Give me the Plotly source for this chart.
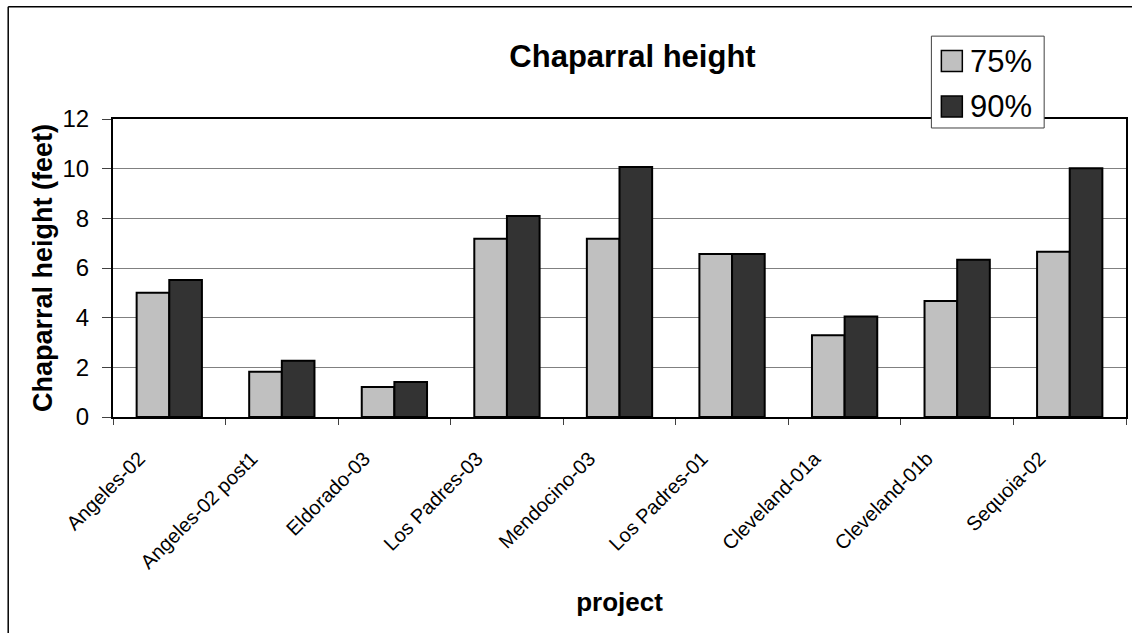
import plotly.graph_objects as go

categories = ["Angeles-02", "Angeles-02 post1", "Eldorado-03", "Los Padres-03",
              "Mendocino-03", "Los Padres-01", "Cleveland-01a", "Cleveland-01b", "Sequoia-02"]
p75 = [5.0, 1.82, 1.21, 7.18, 7.18, 6.56, 3.29, 4.67, 6.65]
p90 = [5.52, 2.27, 1.41, 8.09, 10.07, 6.56, 4.05, 6.33, 10.02]
series_names = ["75%", "90%"]
series_colors = ["#C0C0C0", "#333333"]
y_ticks = [0, 2, 4, 6, 8, 10, 12]

W, H = 1132, 633
L, R, T, B = 113, 1128, 119, 417.5

def px_x(x):
    return (x - L) / (R - L)

def px_y(y):
    return (B - y) / (B - T)

FONT = "Arial, Liberation Sans, sans-serif"

fig = go.Figure()
for name, vals, col in zip(series_names, [p75, p90], series_colors):
    fig.add_trace(go.Bar(x=categories, y=vals, name=name, marker=dict(color=col, line=dict(color="black", width=2)),
                         showlegend=False))

shapes = [
    # outer chart border (left and top edges visible in frame)
    dict(type="line", xref="paper", yref="paper", x0=px_x(8), y0=px_y(650), x1=px_x(8), y1=px_y(6.5),
         line=dict(color="black", width=1.5), layer="below"),
    dict(type="line", xref="paper", yref="paper", x0=px_x(8), y0=px_y(6.5), x1=px_x(1140), y1=px_y(6.5),
         line=dict(color="black", width=1.5), layer="below"),
    # legend box
    dict(type="rect", xref="paper", yref="paper", x0=px_x(933), y0=px_y(128), x1=px_x(1046), y1=px_y(36),
         line=dict(color="#404040", width=1), fillcolor="white", layer="above"),
]
annotations = []
legend_rows = [61, 106.5]
for name, col, cy in zip(series_names, series_colors, legend_rows):
    shapes.append(dict(type="rect", xref="paper", yref="paper", x0=px_x(943), y0=px_y(cy + 10.5),
                       x1=px_x(964), y1=px_y(cy - 10.5), line=dict(color="black", width=1.5),
                       fillcolor=col, layer="above"))
    annotations.append(dict(xref="paper", yref="paper", x=px_x(970), y=px_y(cy), text=name, showarrow=False,
                            xanchor="left", yanchor="middle", font=dict(size=31, color="black", family=FONT)))

fig.update_layout(
    width=W, height=H,
    margin=dict(l=L, r=W - R, t=T, b=H - B),
    paper_bgcolor="white", plot_bgcolor="white",
    font=dict(family=FONT, color="black"),
    title=dict(text="<b>Chaparral height</b>", x=632.5 / W, y=1 - 56 / H, xref="container", yref="container",
               xanchor="center", yanchor="middle", font=dict(size=31, color="black", family=FONT)),
    barmode="group", bargap=0.42, bargroupgap=0,
    shapes=shapes, annotations=annotations,
    showlegend=False,
)
fig.update_xaxes(
    showline=True, linecolor="black", linewidth=2, mirror=True,
    ticks="outside", ticklen=6, tickcolor="#404040", tickwidth=1, tickson="boundaries",
    showgrid=False, tickangle=-45, tickfont=dict(size=20, family=FONT, color="black"),
    ticklabelstandoff=20, ticklabelshift=-30,
    title=dict(text="<b>project</b>", font=dict(size=26, family=FONT, color="black"), standoff=21),
)
fig.update_yaxes(
    range=[0, 12], tickvals=y_ticks, showline=True, linecolor="black", linewidth=2, mirror=True,
    ticks="outside", ticklen=9, tickcolor="#404040", tickwidth=1,
    showgrid=True, gridcolor="#808080", gridwidth=1, zeroline=False,
    tickfont=dict(size=24, family=FONT, color="black"), ticklabelstandoff=8,
    title=dict(text="<b>Chaparral height (feet)</b>", font=dict(size=27, family=FONT, color="black"), standoff=2),
)

fig.write_html("out.html")
